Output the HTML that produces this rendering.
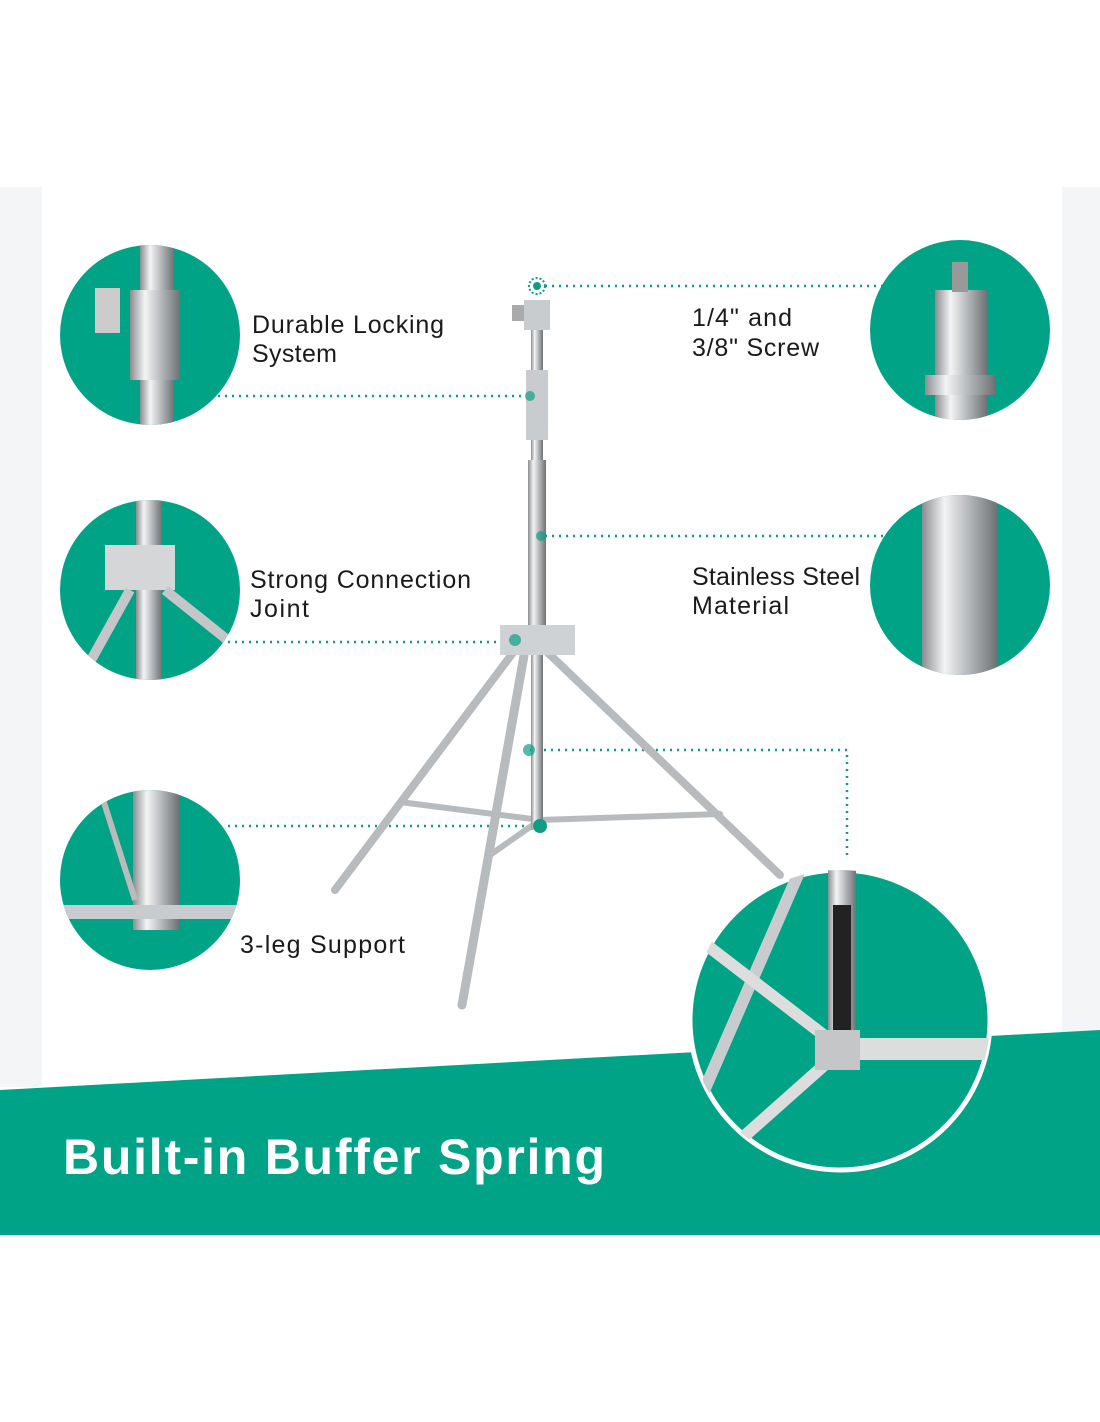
<html><head><style>body{margin:0;background:#fff}svg{display:block}</style></head><body>
<svg width="1100" height="1422" xmlns="http://www.w3.org/2000/svg" font-family="Liberation Sans, sans-serif">
<defs>
<linearGradient id="m" x1="0" x2="1"><stop offset="0" stop-color="#8a8d90"/><stop offset=".3" stop-color="#f4f4f4"/><stop offset=".6" stop-color="#b9bcbf"/><stop offset="1" stop-color="#6f7275"/></linearGradient>
<clipPath id="c1"><circle cx="150" cy="335" r="90"/></clipPath>
<clipPath id="c2"><circle cx="150" cy="590" r="90"/></clipPath>
<clipPath id="c3"><circle cx="150" cy="880" r="90"/></clipPath>
<clipPath id="c4"><circle cx="960" cy="330" r="90"/></clipPath>
<clipPath id="c5"><circle cx="960" cy="585" r="90"/></clipPath>
<clipPath id="c6"><circle cx="840" cy="1020" r="150"/></clipPath>
</defs>
<rect x="0" y="187" width="42" height="900" fill="#f4f5f7"/>
<rect x="1062" y="187" width="38" height="850" fill="#f4f5f7"/>
<polygon points="0,1090 1100,1030 1100,1235 0,1235" fill="#00a386"/>
<g stroke="#0e9d83" stroke-width="2.5" stroke-dasharray="2 5" fill="none">
<path d="M218 396H530"/><path d="M545 286H885"/><path d="M545 536H885"/><path d="M228 642H515"/><path d="M228 826H540"/><path d="M530 750H847V860"/>
</g>
<g stroke="#b8bbbe" stroke-linecap="round">
<line x1="515" y1="650" x2="335" y2="890" stroke-width="8"/>
<line x1="545" y1="650" x2="780" y2="875" stroke-width="8"/>
<line x1="525" y1="650" x2="462" y2="1005" stroke-width="9"/>
<line x1="540" y1="820" x2="400" y2="802" stroke-width="6"/>
<line x1="540" y1="820" x2="720" y2="814" stroke-width="6"/>
<line x1="540" y1="820" x2="490" y2="855" stroke-width="6"/>
</g>
<rect x="531" y="300" width="12" height="530" fill="url(#m)"/>
<rect x="528" y="460" width="18" height="170" fill="url(#m)"/>
<rect x="500" y="625" width="75" height="30" fill="#cfd2d4"/>
<rect x="524" y="300" width="26" height="30" fill="#c9ccce"/><rect x="512" y="305" width="12" height="16" fill="#aaa"/>
<rect x="526" y="370" width="22" height="70" fill="#c9ccce"/>
<circle cx="537" cy="286" r="8" fill="none" stroke="#0e9d83" stroke-width="2" stroke-dasharray="2 2"/><circle cx="537" cy="286" r="4" fill="#0e9d83"/>
<circle cx="530" cy="396" r="5" fill="#0e9d83" opacity=".7"/><circle cx="541" cy="536" r="5" fill="#0e9d83" opacity=".7"/>
<circle cx="515" cy="640" r="6" fill="#0e9d83" opacity=".7"/><circle cx="529" cy="750" r="6" fill="#0e9d83" opacity=".7"/>
<circle cx="540" cy="826" r="7" fill="#0e9d83"/>
<g fill="#00a386"><circle cx="150" cy="335" r="90"/><circle cx="150" cy="590" r="90"/><circle cx="150" cy="880" r="90"/><circle cx="960" cy="330" r="90"/><circle cx="960" cy="585" r="90"/><circle cx="840" cy="1020" r="150" stroke="#fff" stroke-width="5"/></g>
<g clip-path="url(#c1)"><rect x="140" y="240" width="34" height="200" fill="url(#m)"/><rect x="130" y="290" width="50" height="90" fill="url(#m)"/><rect x="95" y="288" width="25" height="45" fill="#ccc"/></g>
<g clip-path="url(#c2)"><rect x="136" y="500" width="26" height="200" fill="url(#m)"/><rect x="105" y="545" width="70" height="45" fill="#d4d6d8"/><line x1="130" y1="590" x2="80" y2="680" stroke="#c4c6c8" stroke-width="10"/><line x1="165" y1="590" x2="240" y2="650" stroke="#c4c6c8" stroke-width="10"/></g>
<g clip-path="url(#c3)"><rect x="133" y="790" width="46" height="140" fill="url(#m)"/><rect x="60" y="905" width="200" height="14" fill="#c9ccce"/><line x1="100" y1="790" x2="135" y2="900" stroke="#bbb" stroke-width="6"/></g>
<g clip-path="url(#c4)"><rect x="935" y="290" width="52" height="130" fill="url(#m)"/><rect x="925" y="375" width="70" height="20" fill="url(#m)"/><rect x="952" y="262" width="16" height="30" fill="#999"/></g>
<g clip-path="url(#c5)"><rect x="922" y="490" width="75" height="190" fill="url(#m)"/></g>
<g clip-path="url(#c6)"><rect x="828" y="860" width="28" height="190" fill="url(#m)"/><rect x="833" y="905" width="18" height="130" fill="#222"/><line x1="800" y1="870" x2="700" y2="1100" stroke="#c9ccce" stroke-width="12"/><line x1="700" y1="940" x2="830" y2="1040" stroke="#ddd" stroke-width="12"/><rect x="855" y="1038" width="140" height="22" fill="#dcdede"/><line x1="830" y1="1060" x2="740" y2="1140" stroke="#ddd" stroke-width="12"/><rect x="815" y="1030" width="45" height="40" fill="#c4c6c8"/></g>
<g font-size="25" fill="#1a1a1a">
<text x="252" y="333" textLength="192">Durable Locking</text><text x="252" y="362" textLength="85">System</text>
<text x="692" y="326" textLength="100">1/4" and</text><text x="692" y="356" textLength="127">3/8" Screw</text>
<text x="250" y="588" textLength="221">Strong Connection</text><text x="250" y="617" textLength="59">Joint</text>
<text x="692" y="585" textLength="168">Stainless Steel</text><text x="692" y="614" textLength="97">Material</text>
<text x="240" y="953" textLength="165">3-leg Support</text>
</g>
<text x="63" y="1174" font-size="50" font-weight="bold" fill="#fff" textLength="542">Built-in Buffer Spring</text>
</svg></body></html>
